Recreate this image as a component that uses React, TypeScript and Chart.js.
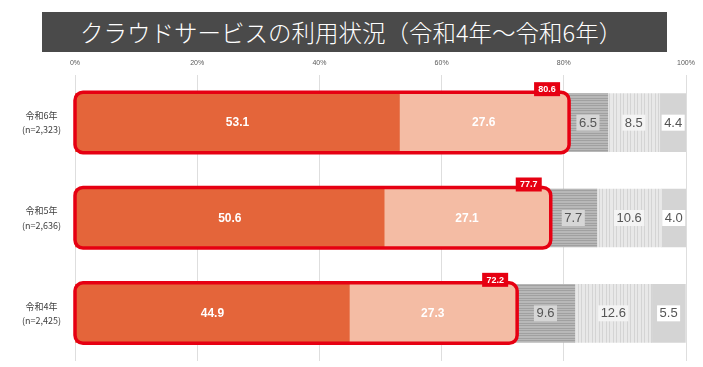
import React, { useEffect, useRef } from 'react';
import { Chart, registerables } from 'chart.js';

Chart.register(...registerables);

const TITLE = 'クラウドサービスの利用状況（令和4年～令和6年）';
const categories = [
  ['令和6年', '(n=2,323)'],
  ['令和5年', '(n=2,636)'],
  ['令和4年', '(n=2,425)'],
];
const seriesNames = [
  '全社的に利用している',
  '一部の事業所又は部門で利用している',
  '利用していないが、今後利用する予定がある',
  '利用していないし、今後も利用する予定もない',
  'クラウドサービスについてよく分からない',
];
const companyWide = [53.1, 50.6, 44.9];
const partUse = [27.6, 27.1, 27.3];
const planned = [6.5, 7.7, 9.6];
const notPlanned = [8.5, 10.6, 12.6];
const unknown = [4.4, 4.0, 5.5];
const usingTotals = [80.6, 77.7, 72.2];
const xTickValues = [0, 20, 40, 60, 80, 100];

const NUM_FONT = '"Liberation Sans", Arial, "Noto Sans CJK JP", sans-serif';
const JP_FONT = '"Noto Sans CJK JP", "Noto Sans", sans-serif';

function hStripe(ctx: CanvasRenderingContext2D) {
  const c = document.createElement('canvas');
  c.width = 4;
  c.height = 5;
  const g = c.getContext('2d')!;
  g.fillStyle = '#b8b8b8';
  g.fillRect(0, 0, 4, 5);
  g.fillStyle = '#a0a0a0';
  g.fillRect(0, 0, 4, 1);
  g.fillRect(0, 3, 4, 1);
  return ctx.createPattern(c, 'repeat');
}

function vStripe(ctx: CanvasRenderingContext2D) {
  const c = document.createElement('canvas');
  c.width = 7;
  c.height = 4;
  const g = c.getContext('2d')!;
  g.fillStyle = '#e8e8e8';
  g.fillRect(0, 0, 7, 4);
  g.fillStyle = '#d4d4d4';
  g.fillRect(0, 0, 1, 4);
  g.fillRect(4, 0, 1, 4);
  return ctx.createPattern(c, 'repeat');
}

const labelBg = [null, null, '#d6d6d6', '#f4f4f4', '#ffffff'];

const overlayPlugin = {
  id: 'overlay',
  afterDatasetsDraw(chart: any) {
    const ctx: CanvasRenderingContext2D = chart.ctx;
    ctx.save();
    chart.data.datasets.forEach((ds: any, di: number) => {
      const meta = chart.getDatasetMeta(di);
      meta.data.forEach((el: any, i: number) => {
        const p = el.getProps(['x', 'base', 'y'], true);
        const cx = (p.x + p.base) / 2;
        const txt = Number(ds.data[i]).toFixed(1);
        if (di < 2) {
          ctx.font = `bold 12px ${NUM_FONT}`;
          ctx.fillStyle = '#ffffff';
        } else {
          ctx.font = `13px ${NUM_FONT}`;
          const w = ctx.measureText(txt).width + 5;
          ctx.fillStyle = labelBg[di] as string;
          ctx.fillRect(cx - w / 2, p.y - 8, w, 16);
          ctx.fillStyle = '#555555';
        }
        ctx.textAlign = 'center';
        ctx.textBaseline = 'middle';
        ctx.fillText(txt, cx, p.y + 0.5);
      });
    });
    const m0 = chart.getDatasetMeta(0);
    const m1 = chart.getDatasetMeta(1);
    m0.data.forEach((el0: any, i: number) => {
      const el1 = m1.data[i];
      const a = el0.getProps(['base', 'y', 'height'], true);
      const b = el1.getProps(['x'], true);
      const left = a.base - 0.5;
      const right = b.x + 1;
      const top = a.y - a.height / 2 - 1.5;
      const bottom = a.y + a.height / 2 + 1;
      ctx.beginPath();
      (ctx as any).roundRect(left, top, right - left, bottom - top, 8);
      ctx.lineWidth = 3.5;
      ctx.strokeStyle = '#e60012';
      ctx.stroke();
      const txt = usingTotals[i].toFixed(1);
      ctx.font = `bold 9px ${NUM_FONT}`;
      const bw = 26;
      const bh = 14;
      const bx = b.x - 8 - bw;
      const by = top - 10;
      ctx.fillStyle = '#e60012';
      ctx.fillRect(bx, by, bw, bh);
      ctx.fillStyle = '#ffffff';
      ctx.textAlign = 'center';
      ctx.textBaseline = 'middle';
      ctx.fillText(txt, bx + bw / 2, by + bh / 2 + 0.5);
    });
    ctx.restore();
  },
};

export default function App() {
  const ref = useRef<HTMLCanvasElement>(null);
  useEffect(() => {
    const canvas = ref.current!;
    const ctx = canvas.getContext('2d')!;
    const chart = new Chart(canvas, {
      type: 'bar',
      data: {
        labels: categories,
        datasets: [
          { label: seriesNames[0], data: companyWide, backgroundColor: '#e4653a' },
          { label: seriesNames[1], data: partUse, backgroundColor: '#f4bca4' },
          { label: seriesNames[2], data: planned, backgroundColor: hStripe(ctx) as any },
          { label: seriesNames[3], data: notPlanned, backgroundColor: vStripe(ctx) as any },
          { label: seriesNames[4], data: unknown, backgroundColor: '#d4d4d4' },
        ],
      },
      options: {
        indexAxis: 'y',
        responsive: false,
        animation: false,
        events: [],
        layout: { padding: { left: 0, right: 17, top: 0, bottom: 6 } },
        datasets: { bar: { barThickness: 58, borderWidth: 0 } },
        plugins: {
          legend: { display: false },
          tooltip: { enabled: false },
          title: { display: false },
        },
        scales: {
          x: {
            position: 'top',
            stacked: true,
            min: 0,
            max: 100,
            afterFit: (s: any) => { s.height = 75; s.paddingLeft = 0; s.paddingRight = 0; },
            afterBuildTicks: (s: any) => { s.ticks = xTickValues.map((v) => ({ value: v })); },
            ticks: {
              callback: (v: any) => `${v}%`,
              font: { size: 7, family: NUM_FONT },
              color: '#595959',
              padding: 8,
              maxRotation: 0,
            },
            grid: { color: '#dedede', lineWidth: 1, drawTicks: false },
            border: { display: false },
          },
          y: {
            stacked: true,
            afterFit: (s: any) => { s.width = 75; s.paddingTop = 0; s.paddingBottom = 0; },
            ticks: {
              font: { size: 9, family: JP_FONT, lineHeight: 1.6 },
              color: '#404040',
              crossAlign: 'center',
              padding: 6,
            },
            grid: { display: false },
            border: { display: false },
          },
        },
      } as any,
      plugins: [overlayPlugin],
    });
    return () => chart.destroy();
  }, []);

  return (
    <div style={{ position: 'absolute', left: 0, top: 0, width: 703, height: 367, background: '#fff' }}>
      <canvas ref={ref} width={703} height={367} style={{ width: 703, height: 367, display: 'block' }} />
      <div
        style={{
          position: 'absolute',
          left: 42,
          top: 12,
          width: 625,
          height: 40,
          background: '#4a4a4a',
          color: '#ffffff',
          fontFamily: JP_FONT,
          fontSize: 23.5,
          fontWeight: 300,
          lineHeight: '40px',
          paddingLeft: 38,
          boxSizing: 'border-box',
          whiteSpace: 'nowrap',
        }}
      >
        {TITLE}
      </div>
    </div>
  );
}
